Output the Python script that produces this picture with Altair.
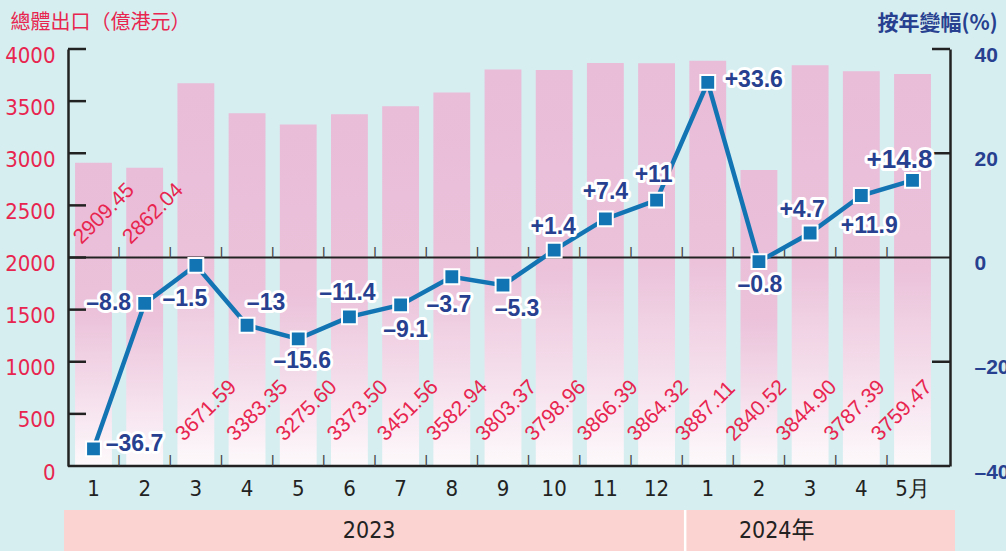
import altair as alt
import pandas as pd

# ---------------- data ----------------
keys = [f"2023-{m}" for m in range(1, 13)] + [f"2024-{m}" for m in range(1, 6)]
month_labels = ["1", "2", "3", "4", "5", "6", "7", "8", "9", "10", "11", "12",
                "1", "2", "3", "4", "5月"]
exports = [2909.45, 2862.04, 3671.59, 3383.35, 3275.60, 3373.50, 3451.56, 3582.94,
           3803.37, 3798.96, 3866.39, 3864.32, 3887.11, 2840.52, 3844.90, 3787.39, 3759.47]
yoy = [-36.7, -8.8, -1.5, -13, -15.6, -11.4, -9.1, -3.7, -5.3, 1.4, 7.4, 11,
       33.6, -0.8, 4.7, 11.9, 14.8]
export_ticks = [0, 500, 1000, 1500, 2000, 2500, 3000, 3500, 4000]
yoy_ticks = [-40, -20, 0, 20, 40]
year_labels = ["2023", "2024年"]
year_anchor_keys = ["2023-7", "2024-3"]

# ---------------- layout / style ----------------
W, H = 882, 417
X_RANGE_END = 870
PAD_IN, PAD_OUT = 0.28, 0.138
STEP = X_RANGE_END / (len(keys) - PAD_IN + 2 * PAD_OUT)
HALF_BW = (1 - PAD_IN) * STEP / 2
HALF_GAP = PAD_IN * STEP / 2
PX_PER_PCT = H / 80.0
RED = "#e8254f"
NAVY = "#27408f"
BLUE = "#1374b4"
NARROW = "Liberation Sans Narrow, DejaVu Sans Condensed, Liberation Sans, sans-serif"
SANS = "Liberation Sans, Arial, sans-serif"
CJK = "Noto Sans CJK TC, Noto Sans CJK SC, sans-serif"

# per-point label placement (pixels, relative to the point / bar centre)
line_label_dx = [41, -36, -11, 19, 4, -2, 5, -3, 14, -1, 0, -3, 46, 1, -8, 8, -13]
line_label_dy = [-5, 0, 34, -22, 22, -24, 25, 28, 24, -23, -27, -25, -2, 23, -23, 31, -20]
bar_label_dx = [-12, -14, -12, -12, -14, -14, -15, -17, -19, -21, -20, -21, -24, -25, -26, -29, -33]
bar_label_y = [2120, 2120] + [230] * 15
year_dx = [-13, -15]


def fmt_yoy(v):
    return f"{v:+g}".replace("-", "–")


df = pd.DataFrame({
    "key": keys,
    "i": list(range(len(keys))),
    "exports": exports,
    "yoy": yoy,
    "yoy_label": [fmt_yoy(v) for v in yoy],
    # offsets are measured from the band start when an xOffset channel is present
    "ldx": [d + HALF_BW for d in line_label_dx],
    "ly": [v - d / PX_PER_PCT for v, d in zip(yoy, line_label_dy)],
    "bdx": [d + HALF_BW for d in bar_label_dx],
    "by": bar_label_y,
    "tdx": [-HALF_GAP] * len(keys),
})

XS = alt.Scale(domain=keys, range=[0, X_RANGE_END], paddingInner=PAD_IN, paddingOuter=PAD_OUT)
YL = alt.Scale(domain=[0, 4000], nice=False, zero=False)
YR = alt.Scale(domain=[-40, 40], nice=False, zero=False)

keys_js = "[" + ",".join(f"'{k}'" for k in keys) + "]"
labels_js = "[" + ",".join(f"'{m}'" for m in month_labels) + "]"

x_axis = alt.Axis(
    title=None, labelExpr=f"{labels_js}[indexof({keys_js}, datum.value)]",
    labelAngle=0, labelFont=NARROW, labelFontSize=22, labelColor="#222222",
    labelPadding=12, ticks=False, domain=False,
)
left_axis = alt.Axis(
    title="總體出口（億港元）", titleFont=CJK, titleFontSize=20, titleFontWeight="normal",
    titleColor=RED, titleAngle=0, titleX=-58, titleY=-27, titleAlign="left",
    titleBaseline="middle",
    values=export_ticks, format="d", labelFont=NARROW, labelFontSize=22, labelColor=RED,
    labelPadding=13, labelOffset=6, ticks=False, grid=False,
    domainColor="#222222", domainWidth=2.5, zindex=1,
)
right_axis = alt.Axis(
    title="按年變幅(%)", titleFont=CJK, titleFontSize=21, titleFontWeight="bold",
    titleColor=NAVY, titleAngle=0, titleX=-73, titleY=-26, titleAlign="left",
    titleBaseline="middle", orient="right",
    values=yoy_ticks, format="d", labelExpr="replace(datum.label, /[-−]/, '–')",
    labelFont=SANS, labelFontSize=21, labelFontWeight="bold", labelColor=NAVY,
    labelAlign="left", labelPadding=24, labelOffset=6, ticks=False, grid=False,
    domainColor="#222222", domainWidth=2.5, zindex=1,
)

# bottom year band
band = alt.Chart(pd.DataFrame({"a": [0]})).mark_rect(color="#fbd3d0").encode(
    x=alt.value(-4), x2=alt.value(887), y=alt.value(H + 44), y2=alt.value(H + 85)
)
sep = alt.Chart(pd.DataFrame({"key": ["2024-1"], "dx": [-HALF_GAP + 3]})).mark_rule(
    color="white", strokeWidth=2.5
).encode(
    x=alt.X("key:N", scale=XS, axis=None),
    xOffset=alt.XOffset("dx:Q", scale=None),
    y=alt.value(H + 44), y2=alt.value(H + 85),
)
years = alt.Chart(pd.DataFrame({"key": year_anchor_keys, "label": year_labels, "dx": year_dx})).mark_text(
    font=NARROW + ", " + CJK, fontSize=23, color="#222222", baseline="middle", align="center"
).encode(
    x=alt.X("key:N", scale=XS, axis=None, bandPosition=0),
    xOffset=alt.XOffset("dx:Q", scale=None),
    y=alt.value(H + 65),
    text="label:N",
)

grad = alt.Gradient(
    gradient="linear",
    stops=[
        alt.GradientStop(color="#e9bcd8", offset=0),
        alt.GradientStop(color="#ebc2da", offset=0.5),
        alt.GradientStop(color="#f6e2ee", offset=0.8),
        alt.GradientStop(color="#fdf9fb", offset=1),
    ],
    x1=0, x2=0, y1=0, y2=1,
)

base = alt.Chart(df)

bars = base.mark_bar(color=grad).encode(
    x=alt.X("key:N", scale=XS, axis=x_axis),
    y=alt.Y("exports:Q", scale=YL, axis=left_axis),
)

bar_labels = base.mark_text(
    angle=315, align="left", baseline="alphabetic", color=RED,
    font=SANS, fontSize=21,
).encode(
    x=alt.X("key:N", scale=XS, axis=None),
    xOffset=alt.XOffset("bdx:Q", scale=None),
    y=alt.Y("by:Q", scale=YL, axis=None),
    text=alt.Text("exports:Q", format=".2f"),
)

# bottom axis line and inward ticks
bottom_line = alt.Chart(pd.DataFrame({"v": [0]})).mark_rule(color="#222222", strokeWidth=2.5).encode(
    y=alt.Y("v:Q", scale=YL, axis=None), x=alt.value(0), x2=alt.value(W)
)
left_ticks = alt.Chart(pd.DataFrame({"v": export_ticks[1:]})).mark_rule(
    color="#222222", strokeWidth=2.5
).encode(
    y=alt.Y("v:Q", scale=YL, axis=None), x=alt.value(0), x2=alt.value(18)
)

# short upward ticks at band boundaries (bottom axis and zero line), drawn as bar glyphs
tick_base = base.transform_filter("datum.i > 0").transform_calculate(tick="'|'")
tick_style = dict(font="DejaVu Sans", fontWeight="bold", fontSize=11, color="#444444",
                  align="center", baseline="alphabetic")
bottom_ticks = tick_base.mark_text(**tick_style).encode(
    x=alt.X("key:N", scale=XS, axis=None),
    xOffset=alt.XOffset("tdx:Q", scale=None),
    y=alt.value(H - 2.6),
    text="tick:N",
)
zero_ticks = tick_base.mark_text(**tick_style).encode(
    x=alt.X("key:N", scale=XS, axis=None),
    xOffset=alt.XOffset("tdx:Q", scale=None),
    y=alt.value(H / 2 - 2.6),
    text="tick:N",
)

zero_line = alt.Chart(pd.DataFrame({"v": [0]})).mark_rule(color="#222222", strokeWidth=2).encode(
    y=alt.Y("v:Q", scale=YR, axis=None), x=alt.value(0), x2=alt.value(W)
)
right_ticks = alt.Chart(pd.DataFrame({"v": [40, 20, -20]})).mark_rule(
    color="#222222", strokeWidth=2.5
).encode(
    y=alt.Y("v:Q", scale=YR, axis=None), x=alt.value(W - 18), x2=alt.value(W)
)

line = base.mark_line(color=BLUE, strokeWidth=4.5).encode(
    x=alt.X("key:N", scale=XS, axis=None),
    y=alt.Y("yoy:Q", scale=YR, axis=right_axis),
)
squares = base.mark_point(
    shape="square", filled=True, size=220, fill=BLUE, stroke="white",
    strokeWidth=2, opacity=1,
).encode(
    x=alt.X("key:N", scale=XS, axis=None),
    y=alt.Y("yoy:Q", scale=YR, axis=None),
)

label_enc = dict(
    x=alt.X("key:N", scale=XS, axis=None),
    xOffset=alt.XOffset("ldx:Q", scale=None),
    y=alt.Y("ly:Q", scale=YR, axis=None),
    text="yoy_label:N",
    size=alt.condition("datum.i == 16", alt.value(26), alt.value(23)),
)
halo = base.mark_text(
    font=SANS, fontWeight="bold", color="white", stroke="white", strokeWidth=6,
    strokeJoin="round", align="center", baseline="middle",
).encode(**label_enc)
labels = base.mark_text(
    font=SANS, fontWeight="bold", color=NAVY, align="center", baseline="middle",
).encode(**label_enc)

chart = alt.layer(
    band, sep, years, bars, bar_labels, bottom_line, left_ticks, bottom_ticks, zero_line,
    zero_ticks, right_ticks, line, squares, halo, labels,
).resolve_scale(y="independent").resolve_axis(x="independent").properties(
    width=W, height=H, background="#d6eef0",
    padding={"left": 68, "top": 49, "right": 56, "bottom": 85},
    autosize=alt.AutoSizeParams(type="none"),
).configure_view(stroke=None)

chart.save("out.html", embed_options={"renderer": "svg", "actions": False})
